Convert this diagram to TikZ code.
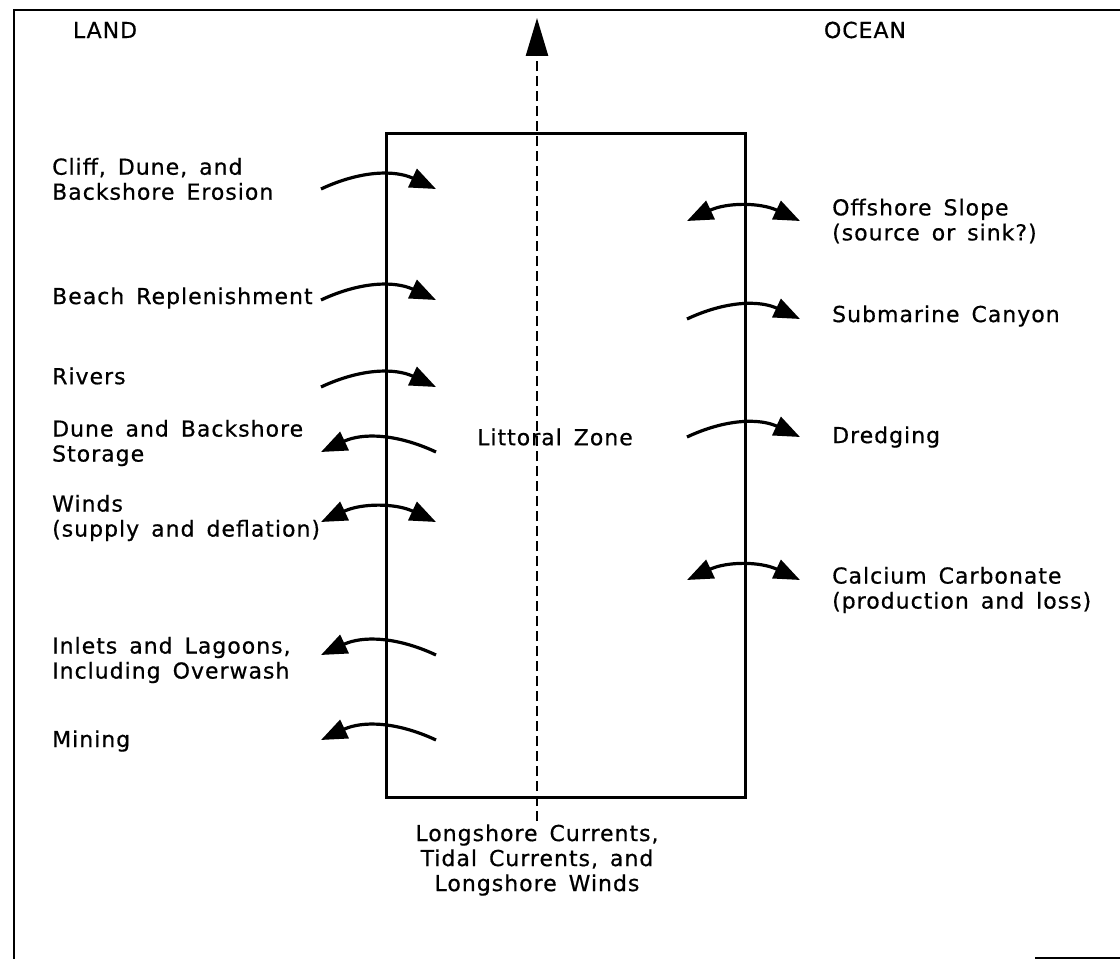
\documentclass[tikz,border=0pt]{standalone}
\usepackage{fontspec}
\setmainfont{DejaVu Sans}[LetterSpace=4.5, WordSpace=1.5, FakeBold=0.6]
\usetikzlibrary{arrows.meta}

\begin{document}
\begin{tikzpicture}[
  x=1pt, y=1pt,
  txt/.style={font=\fontsize{22}{25}\selectfont, align=left, inner sep=0pt},
  flow/.style={line width=3.2pt, -{Triangle[length=26pt,width=20pt]}},
  flowboth/.style={line width=3.2pt,
    {Triangle[length=26pt,width=20pt]}-{Triangle[length=26pt,width=20pt]}},
  drift/.style={line width=2.6pt, dash pattern=on 10pt off 5pt,
    -{Triangle[length=38pt,width=22pt]}}
]
  \useasboundingbox (0,0) rectangle (1120,959);

  % Page frame
  \draw[line width=2.5pt] (1120,949) -- (14,949) -- (14,0);
  \draw[line width=2.5pt] (1035,1) -- (1120,1);

  % Littoral zone
  \draw[line width=3pt] (386,825) rectangle (745,161);
  \node[txt, anchor=center] (zone) at (555,522) {Littoral Zone};

  % Headings
  \node[txt, anchor=center] (land) at (105,929) {LAND};
  \node[txt, anchor=center] (ocean) at (865,929) {OCEAN};

  % Land side sources and sinks
  \node[txt, anchor=west] (cliff) at (52,780) {Cliff, Dune, and\\Backshore Erosion};
  \node[txt, anchor=west] (beach) at (52,661) {Beach Replenishment};
  \node[txt, anchor=west] (rivers) at (52,583) {Rivers};
  \node[txt, anchor=west] (storage) at (52,516) {Dune and Backshore\\Storage};
  \node[txt, anchor=west] (winds) at (52,441) {Winds\\(supply and deflation)};
  \node[txt, anchor=west] (inlets) at (52,299) {Inlets and Lagoons,\\Including Overwash};
  \node[txt, anchor=west] (mining) at (52,218) {Mining};

  % Ocean side sources and sinks
  \node[txt, anchor=west] (slope) at (832,738) {Offshore Slope\\(source or sink?)};
  \node[txt, anchor=west] (canyon) at (832,643) {Submarine Canyon};
  \node[txt, anchor=west] (dredge) at (832,522) {Dredging};
  \node[txt, anchor=west] (carbonate) at (832,369) {Calcium Carbonate\\(production and loss)};

  % Longshore transport
  \node[txt, align=center, anchor=center] (longshore) at (537,99)
    {Longshore Currents,\\Tidal Currents, and\\Longshore Winds};
  \coordinate (north) at (537,941);
  \draw[drift] (longshore.north) ++(0,3) coordinate (south) (south) -- (north);

  % Land arrows into the zone
  \foreach \i/\y in {1/770, 2/659, 3/572} {
    \coordinate (li\i) at (321,\y);
    \coordinate (lo\i) at (436,\y);
    \draw[flow] (li\i) to[bend left=25] (lo\i);
  }

  % Land arrows out of the zone
  \foreach \i/\y in {4/507, 6/304, 7/219} {
    \coordinate (li\i) at (321,\y);
    \coordinate (lo\i) at (436,\y);
    \draw[flow] (lo\i) to[bend right=25] (li\i);
  }

  % Winds both ways
  \coordinate (li5) at (321,437);
  \coordinate (lo5) at (436,437);
  \draw[flowboth] (li5) to[bend left=25] (lo5);

  % Ocean arrows
  \foreach \i/\y in {1/640, 2/522} {
    \coordinate (oi\i) at (687,\y);
    \coordinate (oo\i) at (800,\y);
    \draw[flow] (oi\i) to[bend left=25] (oo\i);
  }
  \foreach \i/\y in {3/738, 4/379} {
    \coordinate (oi\i) at (687,\y);
    \coordinate (oo\i) at (800,\y);
    \draw[flowboth] (oi\i) to[bend left=25] (oo\i);
  }
\end{tikzpicture}
\end{document}
